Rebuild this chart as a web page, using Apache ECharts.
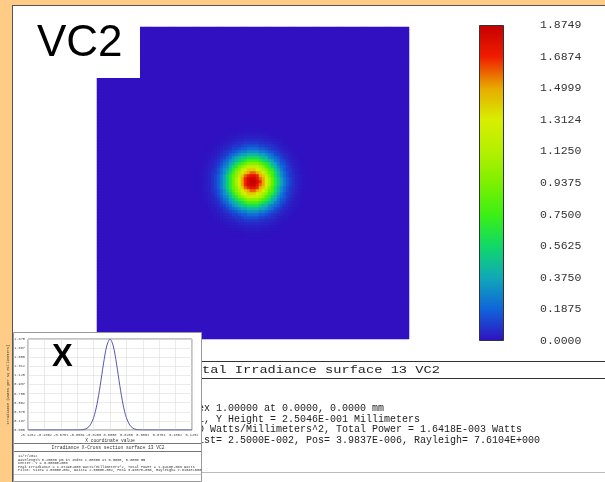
<!DOCTYPE html>
<html><head><meta charset="utf-8">
<script src="https://cdn.jsdelivr.net/npm/echarts@6/dist/echarts.min.js"></script>
<style>html,body{margin:0;padding:0;background:#FFCC88;}#c{width:605px;height:482px;}</style>
</head><body><div id="c"></div>
<script>
// ---------- data ----------
const irradianceMax = 1.8749;
const colorbarTicks = ['0.0000','0.1875','0.3750','0.5625','0.7500','0.9375','1.1250','1.3124','1.4999','1.6874','1.8749'];
const colormap = ['#3010C0','#1064DA','#10A8B8','#10D868','#3CF014','#7CF000','#B4F000','#D8EE00','#E8AA00','#F01C00','#C40000'];
const gridCells = 104;
const spotCenter = [51.4, 52.0];
// irradiance read outward from the spot centre, one entry per half cell of radius
const radialProfile = [1.875,1.866,1.841,1.800,1.744,1.674,1.592,1.501,1.403,1.299,1.191,1.083,0.976,0.871,0.771,0.676,0.587,0.506,0.432,0.365,0.306,0.254,0.209,0.170,0.138,0.110,0.087,0.069,0.054,0.041,0.032,0.024,0.018,0.013,0.010,0.007,0.005,0.003,0.002,0.001];
// X cross-section (micrometres, W/mm^2)
const crossX = [-125,-120,-115,-110,-105,-100,-95,-90,-85,-80,-75,-70,-65,-60,-55,-50,-45,-40,-35,-30,-25,-20,-15,-10,-5,0,5,10,15,20,25,30,35,40,45,50,55,60,65,70,75,80,85,90,95,100,105,110,115,120,125];
const crossIrr = [0,0,0,0,0,0,0,0,0,0,0,0,0,0,0,0.001,0.003,0.011,0.037,0.105,0.254,0.521,0.913,1.361,1.731,1.875,1.731,1.361,0.913,0.521,0.254,0.105,0.037,0.011,0.003,0.001,0,0,0,0,0,0,0,0,0,0,0,0,0,0,0];
const insetXTicks = ['-0.1252','-0.1002','-0.0751','-0.0501','-0.0250','0.0000','0.0250','0.0501','0.0751','0.1002','0.1252'];
const insetYTicks = ['0.000','0.187','0.375','0.562','0.750','0.937','1.125','1.312','1.500','1.687','1.875'];
const mainTitle = 'Total Irradiance surface 13 VC2';
const infoLines = [
  'index 1.00000 at 0.0000, 0.0000 mm',
  '-001, Y Height = 2.5046E-001 Millimeters',
  '000 Watts/Millimeters^2, Total Power = 1.6418E-003 Watts',
  'Waist= 2.5000E-002, Pos= 3.9837E-006, Rayleigh= 7.6104E+000'
];
const infoHidden = [3, 3, 2, 2]; // characters hidden under the inset
const insetTitle = 'Irradiance X-Cross section surface 13 VC2';
const insetInfo = [
  '12/7/2012',
  'Wavelength 0.25000 \u00b5m in index 1.00000 at 0.0000, 0.0000 mm',
  'Center: Y = 0.0000E+000',
  'Peak Irradiance = 1.8749E+000 Watts/Millimeters^2, Total Power = 1.6418E-003 Watts',
  'Pilot: Size= 2.5000E-002, Waist= 2.5000E-002, Pos= 3.9837E-006, Rayleigh= 7.6104E+000'
];

// ---------- build ----------
const cells = [];
const idx = [];
for (let i = 0; i < gridCells; i++) idx.push(i);
for (let i = 0; i < gridCells; i++) {
  for (let j = 0; j < gridCells; j++) {
    const d = Math.sqrt((i - spotCenter[0]) ** 2 + (j - spotCenter[1]) ** 2);
    const k = Math.round(d * 2);
    cells.push([i, j, k < radialProfile.length ? radialProfile[k] : 0]);
  }
}
const stops = colormap.map((c, i) => ({offset: i / (colormap.length - 1), color: c}));
const mono = '"Liberation Mono", "Courier New", monospace';
const titleFs = 10.5, titleCw = 8.2, titleSx = titleCw / (titleFs * 0.6);
const infoFs = 10, infoCw = 6.0;
const xStep = 25.046;

const chart = echarts.init(document.getElementById('c'), null, {renderer: 'canvas'});
const graphics = [
  {type:'rect', shape:{x:13, y:5, width:592, height:477}, style:{fill:'#fff'}, z:-10, silent:true},
  {type:'line', shape:{x1:12.5, y1:5, x2:12.5, y2:482}, style:{stroke:'#555', lineWidth:1}, z:-5},
  {type:'line', shape:{x1:13, y1:5.5, x2:605, y2:5.5}, style:{stroke:'#555', lineWidth:1}, z:-5},
  // VC2 label box
  {type:'rect', shape:{x:14, y:6, width:126, height:72}, style:{fill:'#fff'}, z:50},
  {type:'text', x:37, y:44, style:{text:'VC2', fontSize:44, fontFamily:'"Liberation Sans", Arial, sans-serif', fill:'#000', verticalAlign:'middle'}, z:51},
  // text block
  {type:'line', shape:{x1:13, y1:361.5, x2:605, y2:361.5}, style:{stroke:'#333', lineWidth:1}},
  {type:'line', shape:{x1:13, y1:378.5, x2:605, y2:378.5}, style:{stroke:'#333', lineWidth:1}},
  {type:'line', shape:{x1:13, y1:472.5, x2:605, y2:472.5}, style:{stroke:'#bbb', lineWidth:1}},
  {type:'text', x:202 - 2 * titleCw, y:370, scaleX:titleSx, style:{text:mainTitle, fontSize:titleFs, fontFamily:mono, fill:'#222', verticalAlign:'middle'}}
];
infoLines.forEach((t, i) => {
  graphics.push({type:'text', x:198 - infoHidden[i] * infoCw, y:408 + i * 10.9,
    style:{text:t, fontSize:infoFs, fontFamily:mono, fill:'#222', verticalAlign:'middle'}});
});
// inset
graphics.push(
  {type:'rect', zlevel:1, z:0, shape:{x:13.5, y:332.5, width:188, height:149}, style:{fill:'#fff', stroke:'#999', lineWidth:1}},
  {type:'text', zlevel:1, z:20, x:52, y:357, style:{text:'X', fontSize:31, fontWeight:'bold', fontFamily:'"Liberation Sans", Arial, sans-serif', fill:'#000', verticalAlign:'middle'}},
  {type:'line', zlevel:1, z:5, shape:{x1:14, y1:443.5, x2:201, y2:443.5}, style:{stroke:'#777', lineWidth:1}},
  {type:'text', zlevel:1, z:5, x:108, y:447.5, style:{text:insetTitle, fontSize:4.6, fontFamily:mono, fill:'#333', align:'center', verticalAlign:'middle'}},
  {type:'line', zlevel:1, z:5, shape:{x1:14, y1:451.5, x2:201, y2:451.5}, style:{stroke:'#777', lineWidth:1}},
  {type:'line', zlevel:1, z:5, shape:{x1:14, y1:474.5, x2:201, y2:474.5}, style:{stroke:'#ccc', lineWidth:1}}
);
insetInfo.forEach((t, i) => {
  graphics.push({type:'text', zlevel:1, z:5, x:18, y:456 + i * 3.6,
    style:{text:t, fontSize:3.6, fontFamily:mono, fill:'#333', verticalAlign:'middle'}});
});

chart.setOption({
  animation: false,
  backgroundColor: 'transparent',
  grid: [
    {left:97, top:27, width:gridCells * 3, height:gridCells * 3},
    {left:479, top:25, width:25, height:316},
    {left:28, top:339, width:164, height:91, show:true, backgroundColor:'#fff', borderColor:'#888', borderWidth:1, zlevel:1, z:2}
  ],
  xAxis: [
    {type:'category', gridIndex:0, data:idx, show:false},
    {type:'category', gridIndex:1, data:['bar'], show:false},
    {type:'value', gridIndex:2, zlevel:1, z:3, min:-5 * xStep, max:5 * xStep, interval:xStep,
      name:'X coordinate value', nameLocation:'middle', nameGap:8,
      nameTextStyle:{fontSize:4.6, fontFamily:mono, color:'#333'},
      axisLine:{show:false}, axisTick:{show:false},
      splitLine:{show:true, lineStyle:{color:'#ddd', width:0.6}},
      axisLabel:{fontSize:3.6, color:'#444', margin:3, fontFamily:mono,
        formatter:(v) => insetXTicks[Math.round(v / xStep) + 5]}}
  ],
  yAxis: [
    {type:'category', gridIndex:0, data:idx, show:false},
    {type:'value', gridIndex:1, min:0, max:irradianceMax, show:false},
    {type:'category', gridIndex:1, data:colorbarTicks, position:'right', boundaryGap:false,
      axisLine:{show:false}, axisTick:{show:false}, splitLine:{show:false},
      axisLabel:{margin:36, fontSize:11.5, fontFamily:mono, color:'#333', align:'left'}},
    {type:'value', gridIndex:2, zlevel:1, z:3, min:0, max:1.875, interval:0.1875,
      name:'Irradiance (Watts per sq Millimeters)', nameLocation:'middle', nameGap:11, nameRotate:90,
      nameTextStyle:{fontSize:3.6, fontFamily:mono, color:'#333'},
      axisLine:{show:false}, axisTick:{show:false},
      splitLine:{show:true, lineStyle:{color:'#ddd', width:0.6}},
      axisLabel:{fontSize:3.6, color:'#444', margin:3, fontFamily:mono,
        formatter:(v) => insetYTicks[Math.round(v / 0.1875)]}}
  ],
  visualMap: {type:'continuous', show:false, min:0, max:irradianceMax, seriesIndex:0,
    inRange:{color: colormap}},
  series: [
    {type:'heatmap', xAxisIndex:0, yAxisIndex:0, data:cells, progressive:0, itemStyle:{borderWidth:0}},
    {type:'bar', xAxisIndex:1, yAxisIndex:1, data:[irradianceMax], barWidth:'100%',
      itemStyle:{color:new echarts.graphic.LinearGradient(0, 1, 0, 0, stops), borderColor:'#333', borderWidth:1}},
    {type:'line', xAxisIndex:2, yAxisIndex:3, zlevel:1, z:10, data:crossX.map((x, i) => [x, crossIrr[i]]),
      smooth:0.3, showSymbol:false, lineStyle:{color:'#5858A8', width:1}}
  ],
  graphic: {elements: graphics}
});
</script>
</body></html>
